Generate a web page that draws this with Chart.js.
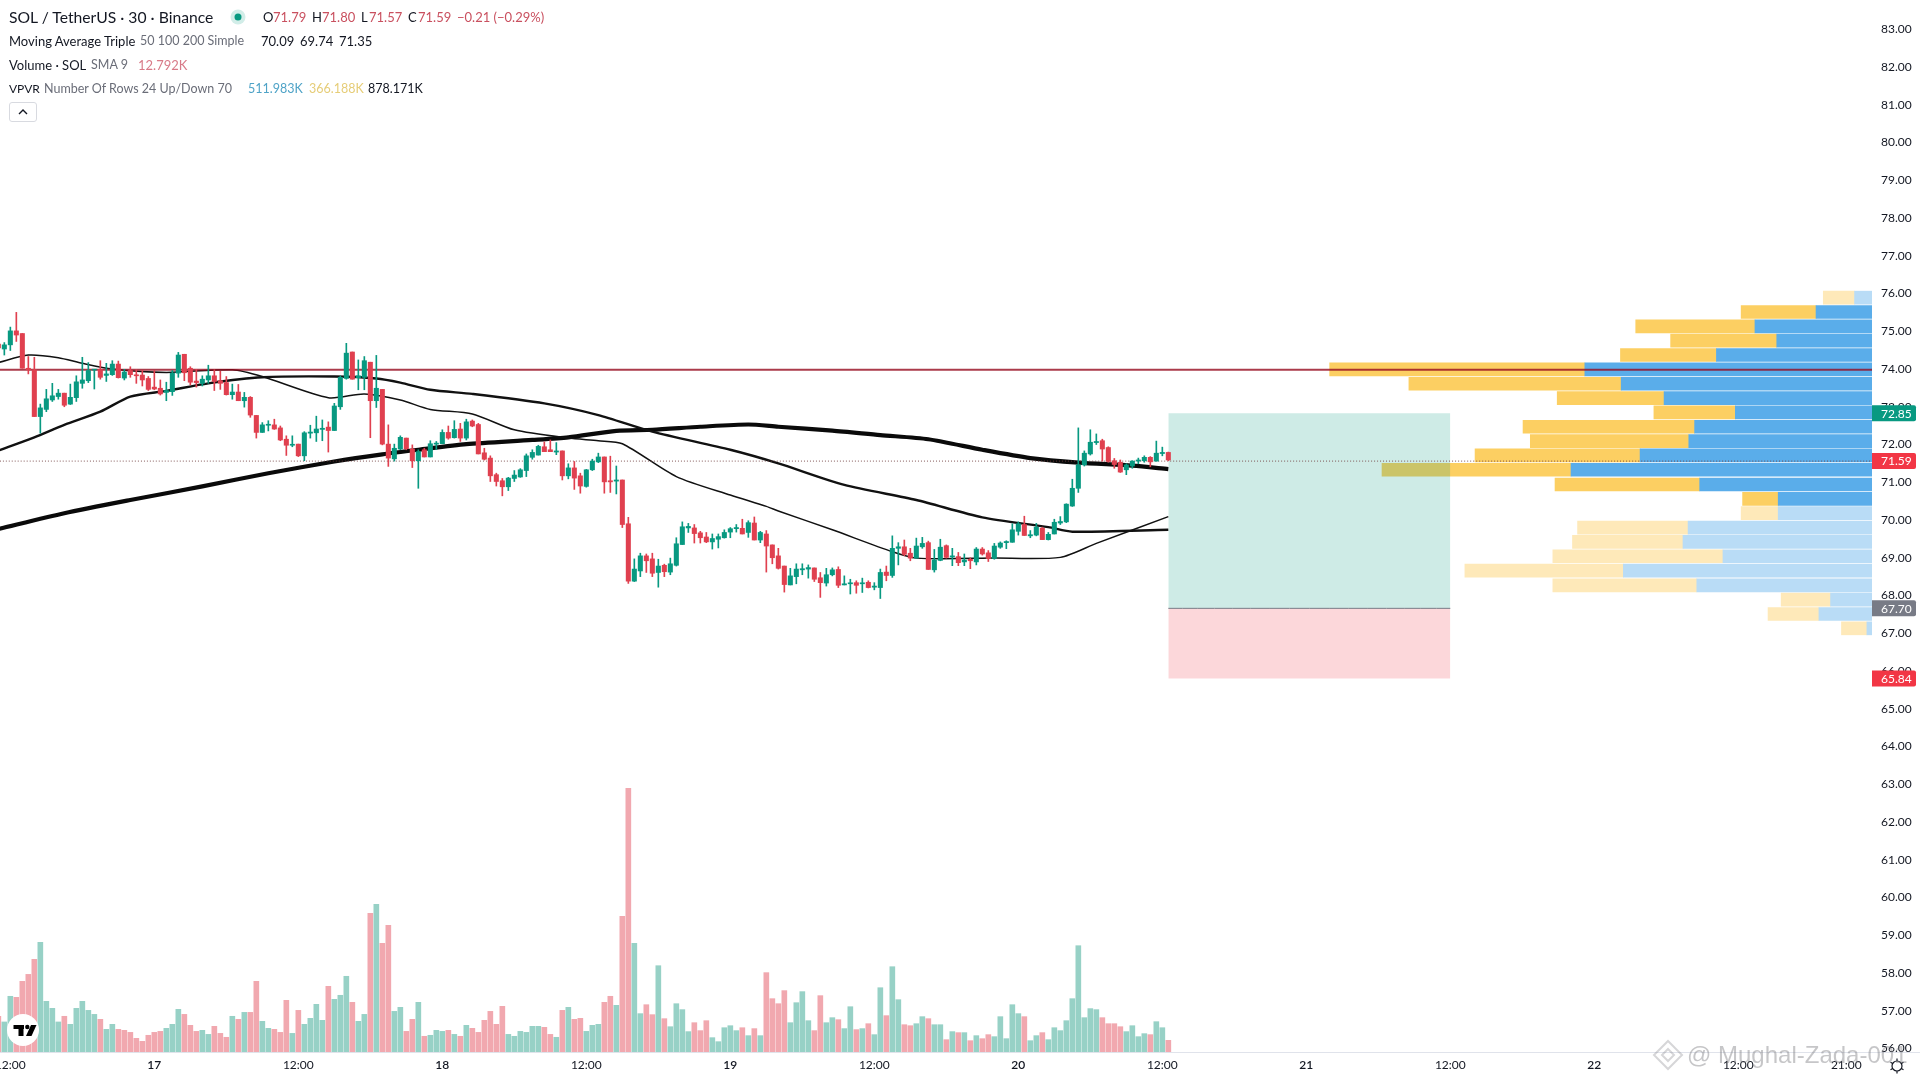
<!DOCTYPE html>
<html>
<head>
<meta charset="utf-8">
<title>SOL / TetherUS</title>
<script src="https://cdn.jsdelivr.net/npm/chart.js@4/dist/chart.umd.min.js"></script>
<style>
html, body { margin: 0; padding: 0; background: #fff; }
#wrap { position: relative; width: 1920px; height: 1080px; overflow: hidden; font-family: Lato, "Noto Sans", sans-serif; color: #131722; }
canvas { position: absolute; left: 0; top: 0; }
#vpCanvas { z-index: 0; }
#mainCanvas { z-index: 1; }
.t { position: absolute; white-space: nowrap; z-index: 2; font-size: 13px; line-height: 16px; }
.g { color: #6a6d78; font-size: 12.5px; }
.r { color: #c9505f; }
#collapse { position: absolute; z-index: 2; left: 9px; top: 102px; width: 28px; height: 20px; border: 1px solid #d8dae0; border-radius: 3px; box-sizing: border-box; }
#mark { position: absolute; z-index: 2; left: 1687px; top: 1041px; font-family: "Liberation Sans", sans-serif; font-size: 24px; line-height: 28px; color: rgba(120,120,125,0.42); white-space: nowrap; }
</style>
</head>
<body>
<div id="wrap">
<canvas id="vpCanvas" width="1920" height="1080"></canvas>
<canvas id="mainCanvas" width="1920" height="1080"></canvas>

<div class="t" style="left:9px;top:8px;font-size:15.7px;line-height:18px">SOL / TetherUS · 30 · Binance</div>
<div class="t" style="left:263px;top:9px">O</div><div class="t r" style="left:273px;top:9px">71.79</div>
<div class="t" style="left:312px;top:9px">H</div><div class="t r" style="left:322px;top:9px">71.80</div>
<div class="t" style="left:361px;top:9px">L</div><div class="t r" style="left:369px;top:9px">71.57</div>
<div class="t" style="left:408px;top:9px">C</div><div class="t r" style="left:418px;top:9px">71.59</div>
<div class="t r" style="left:457px;top:9px">−0.21 (−0.29%)</div>

<div class="t" style="left:9px;top:33px">Moving Average Triple</div>
<div class="t g" style="left:140px;top:33px">50 100 200 Simple</div>
<div class="t" style="left:261px;top:33px">70.09</div><div class="t" style="left:300px;top:33px">69.74</div><div class="t" style="left:339px;top:33px">71.35</div>

<div class="t" style="left:9px;top:57px">Volume · SOL</div>
<div class="t g" style="left:91px;top:57px">SMA 9</div>
<div class="t" style="left:138px;top:57px;color:#d87a88">12.792K</div>

<div class="t" style="left:9px;top:81px;font-size:12px">VPVR</div>
<div class="t g" style="left:44px;top:81px">Number Of Rows 24 Up/Down 70</div>
<div class="t" style="left:248px;top:81px;font-size:12.5px;color:#4fa3c7">511.983K</div>
<div class="t" style="left:309px;top:81px;font-size:12.5px;color:#e6cd78">366.188K</div>
<div class="t" style="left:368px;top:81px;font-size:12.5px">878.171K</div>

<div id="collapse"></div>
<div id="mark">@ Mughal-Zada-001</div>
</div>

<script>
// candles, 30 min, first one is index -1 (cut off by the left edge)
var firstIndex = -1;
var candleOpen = [74.66,
74.53,74.64,75.01,74.94,74.02,73.98,72.74,72.93,73.18,73.27,
73.36,73.07,73.24,73.62,73.69,73.97,73.99,73.83,73.85,74.13,
73.76,73.96,73.84,73.84,73.75,73.52,73.49,73.38,73.40,73.89,
74.39,74.02,73.68,73.62,73.71,73.82,73.69,73.64,73.32,73.39,
73.16,73.25,72.77,72.32,72.51,72.52,72.44,72.14,71.98,72.01,
71.70,72.30,72.31,72.40,72.46,72.37,73.00,73.75,74.45,73.77,
73.78,74.18,73.16,73.46,72.01,71.62,71.88,72.17,71.88,71.57,
71.86,71.67,72.01,72.02,72.32,72.18,72.41,72.17,72.62,72.53,
71.78,71.64,71.20,71.04,70.88,71.10,71.14,71.31,71.66,71.72,
71.94,71.86,71.80,71.83,71.17,71.38,71.17,70.89,71.33,71.54,
71.67,71.04,71.03,71.06,69.90,68.38,68.65,69.05,68.97,68.61,
68.80,68.62,68.80,69.35,69.79,69.79,69.66,69.55,69.42,69.49,
69.53,69.68,69.77,69.78,69.67,69.92,69.47,69.63,69.34,69.05,
68.78,68.28,68.50,68.68,68.70,68.73,68.47,68.33,68.55,68.69,
68.28,68.31,68.34,68.31,68.35,68.22,68.21,68.62,68.53,69.25,
69.29,69.12,68.99,69.29,69.40,68.68,68.93,69.32,69.02,69.03,
68.89,68.96,68.89,69.23,69.13,68.98,69.28,69.40,69.41,69.70,
69.88,69.58,69.60,69.78,69.48,69.63,69.92,69.95,70.37,70.84,
71.46,71.75,72.05,72.10,71.92,71.57,71.53,71.33,71.43,71.56,
71.57,71.66,71.56,71.76,71.79];
var candleHigh = [74.72,
74.70,75.11,75.50,74.94,74.33,74.31,73.07,73.46,73.62,73.46,
73.36,73.60,73.82,74.31,74.17,73.99,74.22,74.15,74.22,74.21,
73.99,74.06,73.98,73.96,73.80,73.96,73.71,73.65,73.96,74.44,
74.39,74.06,73.99,73.82,74.10,73.98,73.94,73.80,73.60,73.59,
73.38,73.27,72.77,72.58,72.63,72.67,72.49,72.23,72.23,72.01,
72.34,72.51,72.75,72.65,72.60,73.09,73.82,74.68,74.45,74.24,
74.33,74.18,74.36,73.46,72.52,72.01,72.23,72.17,71.99,71.86,
71.90,72.10,72.08,72.39,72.49,72.63,72.56,72.67,72.65,72.56,
71.90,71.70,71.24,71.10,71.13,71.31,71.36,71.75,71.86,71.98,
72.07,72.12,72.05,71.83,71.49,71.55,71.24,71.34,71.61,71.77,
71.67,71.69,71.43,71.06,70.07,68.97,69.12,69.10,69.12,68.96,
68.83,68.99,69.53,69.95,69.91,69.88,69.70,69.67,69.63,69.63,
69.74,69.80,69.88,70.02,69.98,70.08,69.70,69.72,69.34,69.25,
68.78,68.72,68.84,68.84,68.81,68.73,68.61,68.72,68.73,68.76,
68.52,68.43,68.39,68.46,68.39,68.34,68.70,68.78,69.58,69.40,
69.47,69.25,69.52,69.54,69.44,69.22,69.49,69.34,69.25,69.14,
69.10,69.00,69.27,69.27,69.19,69.38,69.42,69.45,69.90,69.95,
70.10,69.72,69.91,69.81,69.67,70.02,70.09,70.43,71.08,72.44,
71.83,72.39,72.28,72.14,71.94,71.63,71.59,71.49,71.57,71.64,
71.70,71.68,72.09,71.93,71.80];
var candleLow = [74.45,
74.37,74.49,74.73,74.02,73.87,72.74,72.30,72.87,73.14,73.20,
73.00,73.06,73.14,73.49,73.64,73.47,73.73,73.67,73.83,73.76,
73.71,73.78,73.62,73.55,73.43,73.45,73.31,73.16,73.30,73.78,
73.69,73.58,73.52,73.55,73.62,73.43,73.46,73.31,73.20,73.16,
72.99,72.72,72.17,72.32,72.36,72.40,72.10,71.71,71.94,71.68,
71.57,72.17,72.08,72.10,71.80,72.37,72.93,73.73,73.73,73.45,
73.45,72.18,72.98,71.99,71.42,71.56,71.86,71.86,71.39,70.84,
71.67,71.67,71.87,72.02,72.14,72.17,72.08,72.12,72.47,71.75,
71.59,71.02,70.90,70.64,70.78,71.02,71.13,71.15,71.61,71.72,
71.81,71.81,71.73,71.06,71.09,70.81,70.71,70.87,71.31,71.52,
70.71,70.73,70.69,69.80,68.32,68.37,68.50,68.61,68.50,68.22,
68.50,68.55,68.78,69.35,69.67,69.39,69.39,69.40,69.23,69.26,
69.52,69.53,69.68,69.63,69.54,69.47,69.40,68.62,68.84,68.70,
68.09,68.28,68.31,68.55,68.46,68.37,67.95,68.25,68.52,68.21,
68.28,68.04,68.06,68.08,68.20,68.15,67.92,68.39,68.48,68.81,
69.05,68.92,68.99,69.25,68.69,68.62,68.92,68.99,68.79,68.79,
68.79,68.71,68.81,69.07,68.90,68.96,69.25,69.24,69.41,69.60,
69.59,69.53,69.58,69.48,69.47,69.63,69.88,69.93,70.36,70.73,
71.43,71.72,72.00,71.56,71.53,71.37,71.26,71.20,71.37,71.49,
71.53,71.41,71.56,71.70,71.57];
var candleClose = [74.56,
74.64,75.01,74.90,74.02,73.98,72.74,72.97,73.21,73.29,73.36,
73.04,73.25,73.66,73.71,73.96,73.99,73.78,73.87,74.13,73.77,
73.92,73.85,73.82,73.71,73.46,73.47,73.34,73.43,73.89,74.37,
73.90,73.65,73.64,73.73,73.82,73.67,73.62,73.32,73.39,73.16,
73.25,72.78,72.32,72.52,72.53,72.41,72.12,71.98,72.00,71.70,
72.31,72.33,72.41,72.43,72.37,73.02,73.78,74.42,73.73,73.82,
74.22,73.16,73.49,72.01,71.64,71.90,72.19,71.89,71.57,71.81,
71.67,72.02,72.03,72.32,72.17,72.40,72.17,72.60,72.49,71.75,
71.61,71.17,71.02,70.88,71.11,71.19,71.33,71.70,71.79,71.95,
71.81,71.81,71.83,71.17,71.38,71.11,70.90,71.33,71.56,71.67,
71.01,71.01,71.06,69.88,68.38,68.70,69.05,68.92,68.59,68.78,
68.63,68.84,69.37,69.82,69.83,69.64,69.53,69.42,69.51,69.56,
69.67,69.77,69.80,69.63,69.93,69.47,69.67,69.31,69.00,68.72,
68.29,68.52,68.70,68.71,68.74,68.43,68.34,68.55,68.68,68.27,
68.31,68.33,68.27,68.33,68.21,68.25,68.61,68.53,69.25,69.29,
69.09,68.99,69.31,69.38,68.69,68.94,69.28,69.01,69.05,68.87,
68.94,68.92,69.23,69.10,68.98,69.31,69.39,69.43,69.74,69.90,
69.59,69.61,69.81,69.48,69.62,69.94,69.96,70.42,70.84,71.46,
71.77,72.06,72.08,71.88,71.55,71.47,71.27,71.46,71.56,71.59,
71.66,71.54,71.77,71.79,71.59];

// volume in K
var candleVolume = [39,
32.9,61,59.9,77.4,85,101.5,120.1,55.5,47.8,32.9,
39.1,30.3,47.8,55.5,45.6,41.2,35.8,24.8,30.3,24.8,
23.7,21.5,15,11.7,18.3,21.5,22.6,25.9,30.3,46.7,
41.2,29.2,22.6,23.7,19.3,28.1,20.4,16.1,39.1,35.8,
43.4,43.4,77.4,33.6,25.9,24.8,21.5,56.6,20.4,45.6,
30.3,36.9,52.2,34.7,71.9,57.7,62.1,82.9,54.4,33.6,
41.2,151.8,161.7,119,138.7,44.5,48.9,22.6,35.8,54.4,
17.2,18.3,23.7,22.6,23.7,19.3,17.2,29.2,25.9,21.5,
34.7,44.5,30.3,50,19.3,17.2,22.6,21.5,28.1,28.1,
27,19.3,16.1,45.6,48.9,35.8,36.9,22.6,29.2,30.3,
54.4,61,51.1,148.6,288.7,119,42,51.8,40.9,94.5,
36.5,27.7,52.9,46.4,22.3,32.1,23.4,34.3,15.7,11.3,
26.6,28.8,23.4,26.6,17.9,25.6,17.9,86.9,58.4,52.9,
67.2,32.1,54,66.1,34.3,23.4,61.7,32.1,37.6,35.4,
25.6,49.6,24.5,25.6,31,19,70.4,39.8,93.4,57.3,
29.9,28.8,31,38.7,36.5,29.9,29.9,13.5,22.3,21.2,
21.2,12.4,17.9,14.6,19,16.8,38.7,14.6,51.8,42,
38.7,12.4,17.9,21.2,13.5,26.6,23.4,34.3,58.4,116.4,
37.6,47.5,46.4,37.6,31,31,27.7,22.3,28.8,16.8,
20.1,19,33.2,26.6,12.8];
// bar 20 is pink in the volume pane although its candle reads green
var pinkVolumeBars = [20];

// moving averages at these bar indexes
var ma50Index = [-1,4,9,13,18,27,38,43,54,60,66,71,78,85,94,99,103,112,121,127,129,138,148,152,165,176,182,194];
var ma50Value = [74.17,74.37,74.30,74.15,74.00,73.91,73.98,73.80,73.24,73.34,73.18,72.93,72.81,72.39,72.17,72.10,72.02,71.15,70.66,70.36,70.24,69.74,69.16,68.99,68.99,69.01,69.38,70.09];
var ma100Index = [-1,5,10,16,21,27,34,43,55,62,66,71,78,90,99,108,121,129,140,152,163,174,178,194];
var ma100Value = [71.84,72.19,72.52,72.87,73.27,73.42,73.62,73.78,73.80,73.75,73.64,73.45,73.34,73.09,72.78,72.34,71.86,71.50,70.93,70.53,70.07,69.81,69.69,69.74];
var ma200Index = [-1,10,21,33,44,55,63,69,77,88,94,102,108,116,124,129,138,146,154,163,171,179,188,194];
var ma200Value = [69.76,70.18,70.53,70.89,71.24,71.55,71.74,71.86,72.01,72.12,72.19,72.36,72.39,72.47,72.53,72.47,72.37,72.25,72.14,71.86,71.64,71.52,71.44,71.35];

// volume profile rows, K
var vpPrice = [75.89,75.51,75.13,74.75,74.37,73.99,73.61,73.23,72.85,72.47,72.09,71.71,71.33,70.94,70.56,70.18,69.80,69.42,69.04,68.66,68.27,67.89,67.51,67.13];
var vpUp = [2.4,7.7,16.1,13.1,21.4,39.5,34.5,28.6,18.8,24.4,25.2,31.9,41.4,23.7,12.9,12.9,25.3,26.0,20.5,34.2,24.1,5.7,7.3,0.7];
var vpDown = [4.3,10.3,16.4,14.6,13.2,35.1,29.2,14.7,11.2,23.6,21.8,22.7,26.0,19.9,4.9,5.1,15.2,15.2,23.4,21.8,19.8,6.8,7.0,3.5];
var vpInArea = [false,true,true,true,true,true,true,true,true,true,true,true,true,true,true,false,false,false,false,false,false,false,false,false];

// levels and long position tool, where they sit on the picture's price scale
var resistance = 73.98;
var lastPrice = 71.56;
var targetPrice = 72.83;
var entryPrice = 67.66;
var stopPrice = 65.80;
var toolStart = 194;
var toolEnd = 241;

// axes
var timeTicks = [1,25,49,73,97,121,145,169,193,217,241,265,289,307];
var timeLabels = ["12:00","17","12:00","18","12:00","19","12:00","20","12:00","21","12:00","22","12:00","21:00"];
var tagPrices = [targetPrice,lastPrice,entryPrice,stopPrice];
var tagLabels = ["72.85","71.59","67.70","65.84"];
var tagColors = ["#089981","#f23645","#787b86","#f23645"];

var green = "#089981";
var red = "#e0404f";
var axisFont = {family: "Lato, 'Noto Sans', sans-serif", size: 12};

var xMin = -0.722, xMax = 311.28;
var yMin = 55.907, yMax = 83.775;

function pairs(xs, ys) {
    return xs.map(function(x, i) { return {x: x, y: ys[i]}; });
}

var wicks = [], bodies = [], volumes = [], candleColors = [], volumeColors = [];
for (var n = 0; n < candleOpen.length; n++) {
    var idx = firstIndex + n;
    var up = candleClose[n] >= candleOpen[n];
    wicks.push({x: idx, y: [candleLow[n], candleHigh[n]]});
    bodies.push({x: idx, y: [Math.min(candleOpen[n], candleClose[n]), Math.max(candleOpen[n], candleClose[n])]});
    volumes.push({x: idx, y: candleVolume[n]});
    candleColors.push(up ? green : red);
    volumeColors.push(up && pinkVolumeBars.indexOf(idx) < 0 ? "#97d1c6" : "#f1a8af");
}

function lineSet(data, color, width, order) {
    return {type: "line", data: data, borderColor: color, borderWidth: width, pointRadius: 0, fill: false, order: order, yAxisID: "y", xAxisID: "x"};
}

// volume profile goes on its own canvas under the main one
new Chart(document.getElementById("vpCanvas"), {
    type: "bar",
    data: {
        datasets: [
            {
                data: vpPrice.map(function(p, i) { return {y: p, x: [0, vpUp[i]]}; }),
                backgroundColor: vpInArea.map(function(a) { return a ? "#5aadea" : "#b9dcf6"; }),
                barThickness: 13, grouped: false
            },
            {
                data: vpPrice.map(function(p, i) { return {y: p, x: [vpUp[i], vpUp[i] + vpDown[i]]}; }),
                backgroundColor: vpInArea.map(function(a) { return a ? "#fccf62" : "#fee9b9"; }),
                barThickness: 13, grouped: false
            }
        ]
    },
    options: {
        indexAxis: "y",
        responsive: false,
        animation: false,
        layout: {padding: {right: 48, bottom: 28}},
        plugins: {legend: {display: false}, tooltip: {enabled: false}},
        scales: {
            x: {type: "linear", reverse: true, min: 0, max: 257.5, display: false},
            y: {type: "linear", offset: false, min: yMin, max: yMax, display: false}
        }
    }
});

// things that sit on the axis strip
var overlay = {
    id: "overlay",
    afterDraw: function(chart) {
        var c = chart.ctx, ys = chart.scales.y;
        c.save();
        // y label at the bottom is cut by the time strip
        c.fillStyle = "#fff";
        c.fillRect(1872, 1052, 48, 28);
        c.strokeStyle = "#e0e3eb";
        c.lineWidth = 1;
        c.beginPath();
        c.moveTo(0, 1052.5);
        c.lineTo(1920, 1052.5);
        c.stroke();

        // price tags
        c.font = "12px Lato";
        c.textAlign = "left";
        c.textBaseline = "middle";
        tagPrices.forEach(function(p, i) {
            var y = ys.getPixelForValue(p);
            c.fillStyle = tagColors[i];
            c.beginPath();
            c.roundRect(1872, y - 8, 44, 16, [0, 2, 2, 0]);
            c.fill();
            c.fillStyle = "#fff";
            c.fillText(tagLabels[i], 1881, y + 0.5);
        });

        // settings icon
        c.strokeStyle = "#131722";
        c.lineWidth = 1.2;
        c.beginPath();
        c.arc(1897, 1066, 5, 0, Math.PI * 2);
        for (var a = 0; a < 6; a++) {
            var t = a * Math.PI / 3 + Math.PI / 6;
            c.moveTo(1897 + Math.cos(t) * 5, 1066 + Math.sin(t) * 5);
            c.lineTo(1897 + Math.cos(t) * 7.5, 1066 + Math.sin(t) * 7.5);
        }
        c.stroke();

        // TV logo
        c.fillStyle = "#fff";
        c.beginPath();
        c.arc(23, 1030, 16, 0, Math.PI * 2);
        c.fill();
        c.fillStyle = "#000";
        c.fillRect(13.5, 1025, 10.5, 4);
        c.fillRect(18.5, 1025, 5, 11);
        c.beginPath();
        c.arc(27.3, 1027, 2.2, 0, Math.PI * 2);
        c.fill();
        c.beginPath();
        c.moveTo(31, 1025);
        c.lineTo(36.5, 1025);
        c.lineTo(31.5, 1036);
        c.lineTo(26, 1036);
        c.closePath();
        c.fill();

        // status dot
        c.fillStyle = "rgba(8,153,129,0.18)";
        c.beginPath();
        c.arc(238, 17, 7.5, 0, Math.PI * 2);
        c.fill();
        c.fillStyle = green;
        c.beginPath();
        c.arc(238, 17, 3.5, 0, Math.PI * 2);
        c.fill();

        // collapse chevron
        c.strokeStyle = "#131722";
        c.lineWidth = 1.4;
        c.beginPath();
        c.moveTo(19, 114);
        c.lineTo(23, 110);
        c.lineTo(27, 114);
        c.stroke();

        // watermark mark
        c.strokeStyle = "rgba(120,120,125,0.3)";
        c.lineWidth = 2;
        c.beginPath();
        c.moveTo(1668, 1041); c.lineTo(1682, 1055); c.lineTo(1668, 1069); c.lineTo(1654, 1055);
        c.closePath();
        c.moveTo(1668, 1049); c.lineTo(1674, 1055); c.lineTo(1668, 1061); c.lineTo(1662, 1055);
        c.closePath();
        c.stroke();
        c.restore();
    }
};

new Chart(document.getElementById("mainCanvas"), {
    data: {
        datasets: [
            {type: "bar", data: volumes, backgroundColor: volumeColors, barThickness: 5, grouped: false, yAxisID: "yVol", xAxisID: "x", order: 10},
            {type: "line", data: [{x: toolStart, y: targetPrice}, {x: toolEnd, y: targetPrice}], borderWidth: 0, pointRadius: 0,
                fill: {value: entryPrice}, backgroundColor: "rgba(8,153,129,0.2)", yAxisID: "y", xAxisID: "x", order: 9},
            {type: "line", data: [{x: toolStart, y: stopPrice}, {x: toolEnd, y: stopPrice}], borderWidth: 0, pointRadius: 0,
                fill: {value: entryPrice}, backgroundColor: "rgba(242,54,69,0.2)", yAxisID: "y", xAxisID: "x", order: 9},
            lineSet([{x: toolStart, y: entryPrice}, {x: toolEnd, y: entryPrice}], "#787b86", 1, 8),
            lineSet(pairs(ma50Index, ma50Value), "#111", 1.5, 8),
            lineSet(pairs(ma100Index, ma100Value), "#111", 2.4, 8),
            lineSet(pairs(ma200Index, ma200Value), "#0a0a0a", 4.2, 8),
            lineSet([{x: xMin, y: resistance}, {x: xMax, y: resistance}], "rgba(150,10,30,0.8)", 2, 7),
            Object.assign(lineSet([{x: xMin, y: lastPrice}, {x: xMax, y: lastPrice}], "rgba(110,60,60,0.85)", 1, 7), {borderDash: [1, 2]}),
            {type: "bar", data: wicks, backgroundColor: candleColors, barThickness: 1, grouped: false, yAxisID: "y", xAxisID: "x", order: 6},
            {type: "bar", data: bodies, backgroundColor: candleColors, barThickness: 4.4, minBarLength: 1, grouped: false, yAxisID: "y", xAxisID: "x", order: 5}
        ]
    },
    plugins: [overlay],
    options: {
        responsive: false,
        animation: false,
        layout: {padding: 0},
        plugins: {legend: {display: false}, tooltip: {enabled: false}},
        elements: {line: {tension: 0.25}},
        scales: {
            x: {
                type: "linear", offset: false, min: xMin, max: xMax,
                grid: {display: false, drawTicks: false},
                border: {display: false},
                afterBuildTicks: function(scale) {
                    scale.ticks = timeTicks.map(function(v) { return {value: v}; });
                },
                afterFit: function(scale) {
                    scale.height = 28;
                    scale.paddingLeft = 0;
                    scale.paddingRight = 0;
                },
                ticks: {
                    autoSkip: false, maxRotation: 0, padding: 6, color: "#131722",
                    font: function(ctx) {
                        var label = timeLabels[ctx.index] || "";
                        return {family: axisFont.family, size: axisFont.size, weight: label.indexOf(":") < 0 ? "600" : "400"};
                    },
                    callback: function(v) { return timeLabels[timeTicks.indexOf(v)]; }
                }
            },
            y: {
                type: "linear", position: "right", min: yMin, max: yMax,
                grid: {display: false, drawTicks: false},
                border: {display: false},
                afterFit: function(scale) {
                    scale.width = 48;
                    scale.paddingTop = 0;
                    scale.paddingBottom = 0;
                },
                ticks: {
                    stepSize: 1, includeBounds: false, autoSkip: false, padding: 9, color: "#131722", font: axisFont,
                    callback: function(v) { return v.toFixed(2); }
                }
            },
            yVol: {type: "linear", display: false, min: 0, max: 1152}
        }
    }
});
</script>
</body>
</html>
